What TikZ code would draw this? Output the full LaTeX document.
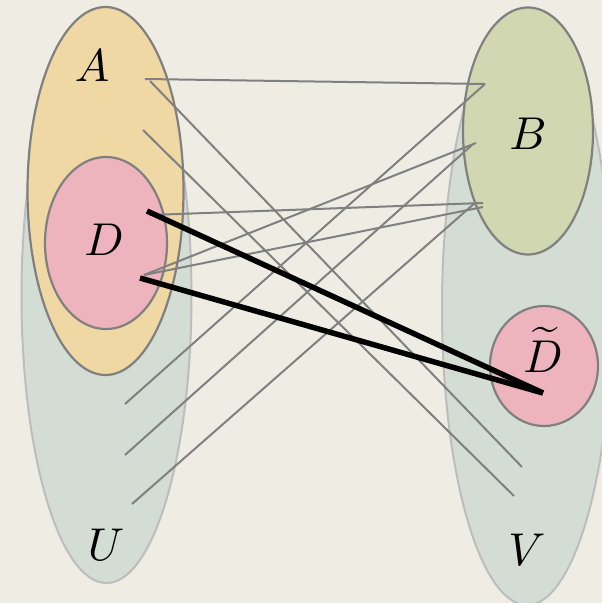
\documentclass[tikz,border=0pt]{standalone}
\usepackage{graphicx}
\usetikzlibrary{shapes.geometric}
\definecolor{bg}{HTML}{EFECE4}
\definecolor{uv}{HTML}{D3DDD4}
\definecolor{uvline}{HTML}{BDBDBD}
\definecolor{afill}{HTML}{F0D8A4}
\definecolor{dfill}{HTML}{EEB4BE}
\definecolor{bfill}{HTML}{D1D7B1}
\definecolor{edge}{HTML}{808080}
\newcommand{\biglbl}[1]{\scalebox{4.6}{$#1$}}
\tikzset{
  big/.style={ellipse, draw=uvline, line width=2pt, fill=uv, inner sep=0pt},
  setel/.style={ellipse, draw=edge, line width=2.2pt, inner sep=0pt},
  lbl/.style={inner sep=0pt},
  thin/.style={draw=edge, line width=2pt},
  thick/.style={draw=black, line width=5.5pt},
}
\begin{document}
\begin{tikzpicture}[x=1pt,y=-1pt]
\fill[bg] (0,0) rectangle (602,603);
\useasboundingbox (0,0) rectangle (602,603);
% big sets
\node[big, minimum width=170pt, minimum height=574pt] (U) at (106.5,296) {};
\node[big, minimum width=170pt, minimum height=594pt] (V) at (527,308) {};
% subsets
\node[setel, fill=afill, minimum width=156pt, minimum height=368pt] (A) at (105.5,191) {};
\node[setel, fill=dfill, minimum width=122pt, minimum height=172pt] (D) at (106,243) {};
\node[setel, fill=bfill, minimum width=130pt, minimum height=247pt] (B) at (528,131) {};
\node[setel, fill=dfill, minimum width=108pt, minimum height=120pt] (Dt) at (544,366) {};
% labels
\node[lbl] (lA) at (92,66) {\biglbl{A}};
\node[lbl] (lD) at (104,240) {\biglbl{D}};
\node[lbl] (lB) at (528,134) {\biglbl{B}};
\node[lbl] (lDt) at (543,350) {\biglbl{\widetilde{D}}};
\node[lbl] (lU) at (106,545) {\biglbl{U}};
\node[lbl] (lV) at (527,550) {\biglbl{V}};
% endpoints
\coordinate (a1) at (145,79);
\coordinate (a2) at (150,81);
\coordinate (a3) at (143,130);
\coordinate (d1) at (150,215);
\coordinate (d2) at (144,275);
\coordinate (d3) at (147,211);
\coordinate (d4) at (140,278);
\coordinate (u1) at (125,404);
\coordinate (u2) at (125,455);
\coordinate (u3) at (132,504);
\coordinate (b1) at (485,84);
\coordinate (b2) at (476,143);
\coordinate (b2x) at (472,145);
\coordinate (b3) at (483,203);
\coordinate (b3x) at (476,202);
\coordinate (b4) at (483,207);
\coordinate (v1) at (522,467);
\coordinate (v2) at (514,496);
\coordinate (t1) at (543,393);
% gray connectors
\draw[thin] (a1) -- (b1);
\draw[thin] (a2) -- (v1);
\draw[thin] (a3) -- (v2);
\draw[thin] (d1) -- (b3);
\draw[thin] (d2) -- (b2);
\draw[thin] (d2) -- (b4);
\draw[thin] (u1) -- (b1);
\draw[thin] (u2) -- (b2x);
\draw[thin] (u3) -- (b3x);
% black connectors
\draw[thick] (d3) -- (t1);
\draw[thick] (d4) -- (t1);
\end{tikzpicture}
\end{document}
